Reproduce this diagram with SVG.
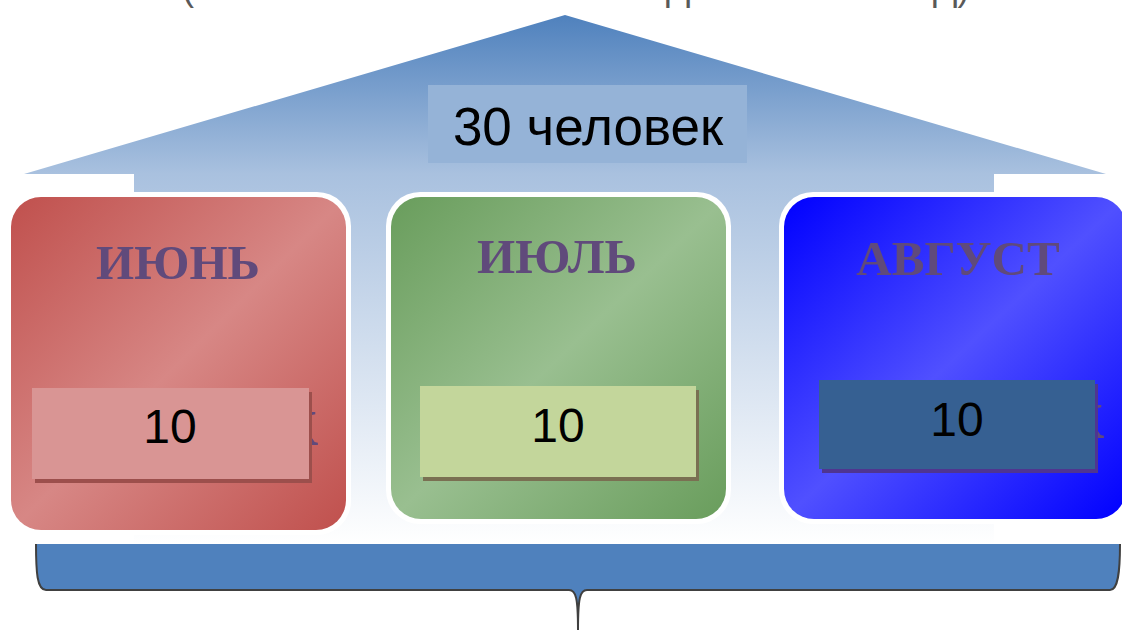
<svg xmlns="http://www.w3.org/2000/svg" width="1122" height="630" viewBox="0 0 1122 630">
  <defs>
    <linearGradient id="gHouse" gradientUnits="userSpaceOnUse" x1="0" y1="15" x2="0" y2="545">
      <stop offset="0" stop-color="#4F81BD"/>
      <stop offset="0.3" stop-color="#A9C1DF"/>
      <stop offset="1" stop-color="#FFFFFF"/>
    </linearGradient>
    <linearGradient id="gRed" x1="0" y1="0" x2="1" y2="1">
      <stop offset="0" stop-color="#C0504D"/>
      <stop offset="0.5" stop-color="#D78785"/>
      <stop offset="1" stop-color="#C0504D"/>
    </linearGradient>
    <linearGradient id="gGreen" x1="0" y1="0" x2="1" y2="1">
      <stop offset="0" stop-color="#699D5C"/>
      <stop offset="0.5" stop-color="#99BF90"/>
      <stop offset="1" stop-color="#699D5C"/>
    </linearGradient>
    <linearGradient id="gBlue" x1="0" y1="0" x2="1" y2="1">
      <stop offset="0" stop-color="#0000FF"/>
      <stop offset="0.5" stop-color="#5050FF"/>
      <stop offset="1" stop-color="#0000FF"/>
    </linearGradient>
  </defs>
  <style>
    .month { font-family: "Liberation Serif", "Times New Roman", serif; font-weight: bold; font-size: 49px; fill: #604A7B; text-anchor: middle; }
    .hidden { font-family: "Liberation Serif", "Times New Roman", serif; font-weight: bold; font-size: 72px; fill: #604A7B; text-anchor: end; }
    .num { font-family: "Liberation Sans", Arial, sans-serif; font-size: 48px; fill: #000000; text-anchor: middle; }
    .title { font-family: "Liberation Sans", Arial, sans-serif; font-size: 36px; fill: #595959; }
    .border { fill: #FFFFFF; }
  </style>

  <g id="title-fragments">
    <text class="title" x="182" y="0">(</text>
    <text class="title" x="666" y="0">Д</text>
    <text class="title" x="933" y="0">Д)</text>
  </g>

  <g id="house">
    <path d="M565,15 L1106,174 L994,174 L994,545 L134,545 L134,174 L24,174 Z" fill="url(#gHouse)"/>
    <rect x="428" y="85" width="319" height="78" fill="#95B3D7"/>
    <text x="588" y="145" font-family="'Liberation Sans', Arial, sans-serif" font-size="53" fill="#000000" text-anchor="middle">30 человек</text>
  </g>

  <g id="june">
    <rect class="border" x="6" y="192" width="345" height="343" rx="34"/>
    <rect x="11" y="197" width="335" height="333" rx="30" fill="url(#gRed)"/>
    <text class="month" x="178" y="279">ИЮНЬ</text>
    <text class="hidden" x="318" y="445">к</text>
    <rect x="35" y="392" width="277" height="91" fill="#9C4F4C"/>
    <rect x="32" y="388" width="277" height="91" fill="#D99594"/>
    <text class="num" x="170" y="443">10</text>
  </g>

  <g id="july">
    <rect class="border" x="386" y="192" width="345" height="332" rx="34"/>
    <rect x="391" y="197" width="335" height="322" rx="30" fill="url(#gGreen)"/>
    <text class="month" x="557" y="273">ИЮЛЬ</text>
    <rect x="423" y="390" width="276" height="91" fill="#7A7052"/>
    <rect x="420" y="386" width="276" height="91" fill="#C3D69B"/>
    <text class="num" x="558" y="442">10</text>
  </g>

  <g id="august">
    <rect class="border" x="779" y="192" width="350" height="332" rx="34"/>
    <rect x="784" y="197" width="342" height="322" rx="30" fill="url(#gBlue)"/>
    <text class="month" x="958" y="275">АВГУСТ</text>
    <text class="hidden" x="1104" y="438">к</text>
    <rect x="822" y="384" width="276" height="89" fill="#4F3590"/>
    <rect x="819" y="380" width="276" height="89" fill="#366092"/>
    <text class="num" x="957" y="436">10</text>
  </g>

  <g id="connectors">
    <path d="M36,544 C36,572 37,590 46,590 L569,590 C576,590 578,598 578,630 C578,598 580,590 587,590 L1110,590 C1118,590 1120,572 1120,544 Z" fill="#4F81BD"/>
    <path d="M36,544 C36,572 37,590 46,590 L569,590 C576,590 578,598 578,630 C578,598 580,590 587,590 L1110,590 C1118,590 1120,572 1120,544" fill="none" stroke="#404040" stroke-width="2"/>
  </g>
</svg>
